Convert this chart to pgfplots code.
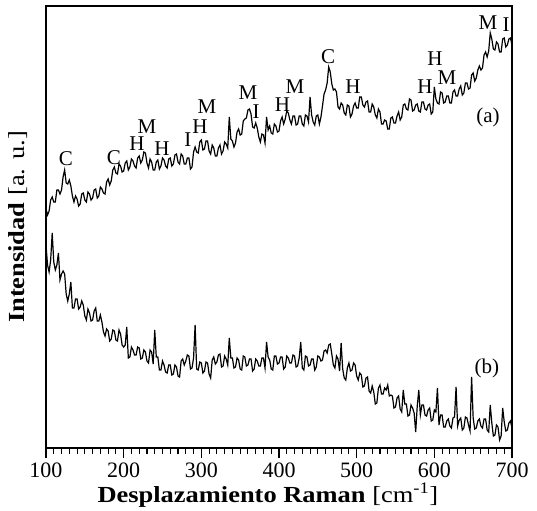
\documentclass[border=0pt]{standalone}
\usepackage{pgfplots}
\pgfplotsset{compat=1.18}
\usepackage{pgfplotstable}
\usepackage{fontspec}
\setmainfont{Liberation Serif}
\newfontfamily\widefont[FakeStretch=1.15]{Liberation Serif}

% espectro (a): x en cm^-1, intensidad en unidades arbitrarias
\pgfplotstableread{
x y
100 239
102 233
104 237
106 248
108 251
110 246
112 246
114 258
116 258
118 254
120 258
122 271
124 278
126 265
128 264
130 268
132 262
134 252
136 246
138 252
140 249
142 242
144 244
146 254
148 255
150 248
152 246
154 256
156 254
158 248
160 250
162 258
164 259
166 250
168 252
170 261
172 259
174 255
176 254
178 266
180 269
182 263
184 267
186 278
188 281
190 275
192 274
194 284
196 282
198 276
200 277
202 285
204 287
206 278
208 281
210 289
212 287
214 282
216 280
218 290
220 292
222 285
224 288
226 296
228 295
230 285
232 280
234 289
236 286
238 278
240 278
242 286
244 288
246 279
248 282
250 290
252 288
254 282
256 280
258 289
260 290
262 282
264 284
266 293
268 294
270 286
272 284
274 294
276 292
278 284
280 284
282 290
284 290
286 279
288 281
290 296
292 301
294 296
296 295
298 306
300 308
302 298
304 299
306 307
308 307
310 297
312 294
314 303
316 300
318 292
320 292
322 300
324 303
326 294
328 297
330 306
332 304
334 300
336 331
338 309
340 307
342 301
344 305
346 316
348 319
350 313
352 314
354 327
356 329
358 330
360 338
362 339
364 334
366 321
368 320
370 325
372 320
374 311
376 306
378 314
380 313
382 305
384 331
386 318
388 322
390 315
392 314
394 324
396 322
398 316
400 317
402 327
404 331
406 324
408 329
410 337
412 335
414 328
416 324
418 332
420 332
422 323
424 324
426 332
428 332
430 324
432 322
434 333
436 332
438 326
440 351
442 333
444 326
446 323
448 332
450 333
452 324
454 331
456 342
458 354
460 358
462 365
464 381
466 376
468 364
470 358
472 359
474 356
476 341
478 339
480 345
482 343
484 335
486 333
488 343
490 342
492 331
494 334
496 342
498 345
500 340
502 340
504 351
506 351
508 343
510 341
512 346
514 347
516 336
518 336
520 344
522 341
524 333
526 330
528 339
530 336
532 324
534 324
536 328
538 327
540 319
542 319
544 330
546 331
548 325
550 325
552 332
554 336
556 328
558 331
560 343
562 344
564 339
566 338
568 349
570 348
572 337
574 338
576 343
578 344
580 337
582 336
584 346
586 346
588 339
590 338
592 343
594 344
596 334
598 336
600 361
602 349
604 345
606 344
608 356
610 355
612 345
614 346
616 352
618 352
620 345
622 345
624 356
626 358
628 352
630 352
632 359
634 362
636 353
638 355
640 365
642 365
644 359
646 360
648 373
650 375
652 367
654 370
656 378
658 382
660 378
662 380
664 393
666 396
668 391
670 397
672 415
674 409
676 399
678 398
680 406
682 404
684 396
686 396
688 409
690 410
692 401
694 403
696 409
698 410
700 403
}\specA

% espectro (b)
\pgfplotstableread{
x y
100 203
102 183
104 176
106 188
108 215
110 186
112 178
114 183
116 195
118 168
120 174
122 177
124 174
126 154
128 147
130 154
132 166
134 140
136 140
138 149
140 149
142 139
144 141
146 147
148 143
150 132
152 128
154 139
156 135
158 127
160 128
162 137
164 140
166 127
168 127
170 133
172 126
174 116
176 112
178 119
180 117
182 107
184 109
186 118
188 117
190 108
192 107
194 118
196 114
198 103
200 101
202 103
204 121
206 90
208 91
210 101
212 98
214 93
216 93
218 101
220 100
222 89
224 90
226 98
228 96
230 87
232 85
234 98
236 96
238 84
240 118
242 91
244 91
246 78
248 78
250 87
252 83
254 76
256 75
258 83
260 83
262 73
264 74
266 83
268 81
270 72
272 71
274 87
276 89
278 83
280 87
282 93
284 92
286 79
288 80
290 90
292 123
294 79
296 78
298 86
300 85
302 75
304 77
306 86
308 85
310 74
312 70
314 88
316 91
318 84
320 86
322 93
324 94
326 81
328 82
330 92
332 89
334 83
336 110
338 90
340 90
342 80
344 81
346 90
348 88
350 79
352 78
354 92
356 91
358 82
360 83
362 89
364 89
366 77
368 79
370 89
372 87
374 82
376 82
378 90
380 90
382 80
384 106
386 91
388 88
390 79
392 78
394 92
396 92
398 84
400 85
402 91
404 91
406 79
408 81
410 92
412 90
414 85
416 85
418 93
420 92
422 81
424 82
426 90
428 106
430 80
432 78
434 92
436 91
438 82
440 83
442 89
444 89
446 78
448 81
450 92
452 91
454 87
456 88
458 97
460 98
462 95
464 103
466 104
468 94
470 83
472 80
474 92
476 89
478 77
480 105
482 79
484 70
486 68
488 80
490 85
492 77
494 78
496 85
498 83
500 72
502 68
504 75
506 73
508 61
510 62
512 70
514 71
516 57
518 55
520 62
522 56
524 44
526 45
528 60
530 63
532 54
534 54
536 60
538 58
540 63
542 52
544 53
546 52
548 40
550 41
552 50
554 52
556 39
558 36
560 58
562 44
564 44
566 32
568 33
570 43
572 40
574 35
576 16
578 42
580 58
582 33
584 43
586 43
588 33
590 32
592 38
594 40
596 27
598 28
600 38
602 36
604 60
606 23
608 33
610 33
612 21
614 21
616 27
618 29
620 22
622 20
624 30
626 31
628 61
630 22
632 28
634 30
636 18
638 20
640 31
642 30
644 23
646 17
648 71
650 30
652 19
654 20
656 27
658 29
660 22
662 20
664 29
666 29
668 18
670 16
672 43
674 25
676 12
678 13
680 23
682 21
684 8
686 12
688 40
690 26
692 17
694 18
696 25
698 27
700 20
}\specB

\begin{document}
\begin{tikzpicture}
\begin{axis}[
scale only axis,width=466pt,height=442pt,
xmin=100,xmax=700,ymin=0,ymax=442,
xtick={100,200,...,700},minor x tick num=9,
ytick=\empty,xtick pos=bottom,tick align=outside,
major tick length=10pt,minor tick length=6pt,
xtick style={line width=1.1pt,black},
axis line style={line width=1.3pt},
/pgf/number format/assume math mode=true,
xticklabel style={font=\fontsize{22}{24}\selectfont,yshift=-1pt},
xlabel={\widefont\fontsize{23}{26}\selectfont\textbf{Desplazamiento Raman} [cm\textsuperscript{-1}]},
ylabel={\widefont\fontsize{23}{26}\selectfont\textbf{Intensidad} [a. u.]},
xlabel style={at={(axis description cs:0.476,-0.07)},anchor=north},
ylabel style={at={(axis description cs:-0.033,0.5)},anchor=south},
clip=false,
]
\addplot[black,line width=1.2pt] table[x=x,y=y]{\specA};
\addplot[black,line width=1.2pt] table[x=x,y=y]{\specB};
\begin{scope}[every node/.style={font=\fontsize{21}{23}\selectfont,inner sep=0pt}]
\node at (axis cs:125.7,289) {C};
\node at (axis cs:187.5,290) {C};
\node at (axis cs:217.2,304) {H};
\node at (axis cs:230,321) {M};
\node at (axis cs:249.4,299) {H};
\node at (axis cs:282.8,308) {I};
\node at (axis cs:298.3,321) {H};
\node at (axis cs:307.3,341) {M};
\node at (axis cs:360.1,355) {M};
\node at (axis cs:370.4,336) {I};
\node at (axis cs:404.5,343) {H};
\node at (axis cs:420.6,361) {M};
\node at (axis cs:463.1,391) {C};
\node at (axis cs:495.3,361) {H};
\node at (axis cs:588,361) {H};
\node at (axis cs:600.8,389) {H};
\node at (axis cs:616.3,370) {M};
\node at (axis cs:669,425) {M};
\node at (axis cs:692.3,423) {I};
\node at (axis cs:669,331) {(a)};
\node at (axis cs:667.8,80) {(b)};
\end{scope}
\end{axis}
% marcas del eje x, bajo el marco (7.76667pt = 10 cm^-1)
\foreach \i in {0,...,60} \draw[line width=1pt] (\i*7.76667pt,0pt) -- ++(0pt,-6pt);
\foreach \i in {0,...,6} \draw[line width=1.1pt] (\i*77.6667pt,0pt) -- ++(0pt,-10pt);
\path (-46pt,-62pt) rectangle (491pt,448pt);
\end{tikzpicture}
\end{document}
